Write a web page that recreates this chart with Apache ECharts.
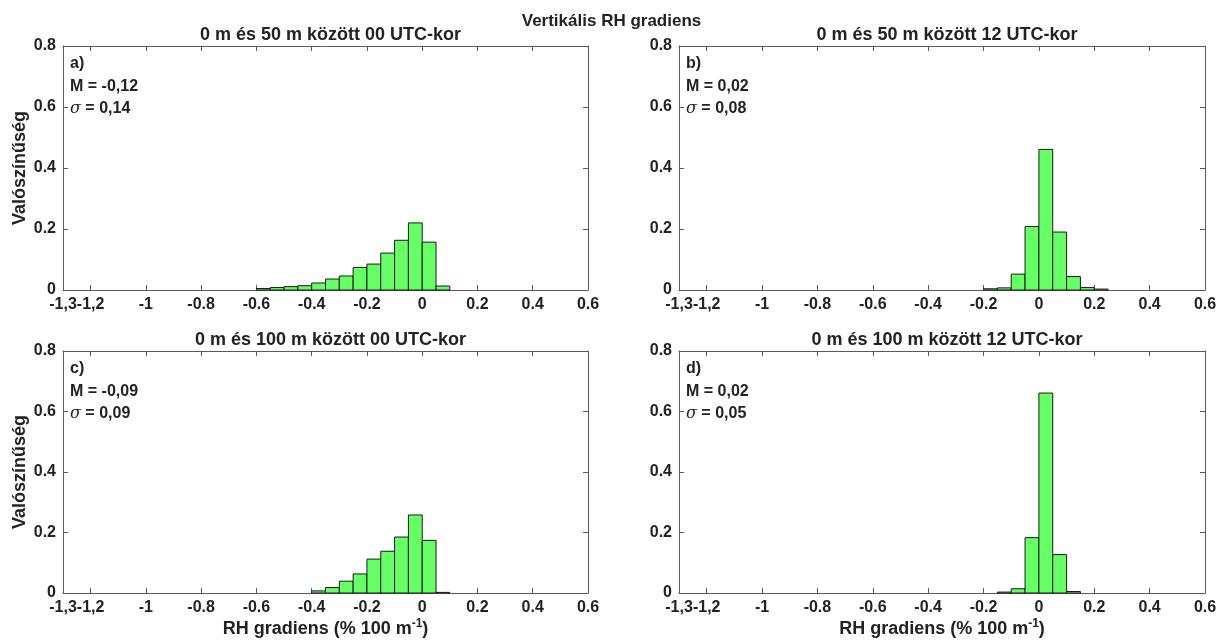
<!DOCTYPE html>
<html>
<head>
<meta charset="utf-8">
<script src="https://cdn.jsdelivr.net/npm/echarts@6/dist/echarts.min.js"></script>
<style>
html,body{margin:0;padding:0;background:#fff;}
#chart{width:1223px;height:644px;}
</style>
</head>
<body>
<div id="chart"></div>
<script>
// ---- data ----
const mainTitle = 'Vertikális RH gradiens';
const panelTitles = [
  '0 m és 50 m között 00 UTC-kor',
  '0 m és 50 m között 12 UTC-kor',
  '0 m és 100 m között 00 UTC-kor',
  '0 m és 100 m között 12 UTC-kor'
];
const panelLetters = ['a)', 'b)', 'c)', 'd)'];
const panelMeans = ['-0,12', '0,02', '-0,09', '0,02'];
const panelSigmas = ['0,14', '0,08', '0,09', '0,05'];

const binWidth = 0.05;
const binStartA = [-0.6, -0.55, -0.5, -0.45, -0.4, -0.35, -0.3, -0.25, -0.2, -0.15, -0.1, -0.05, 0, 0.05];
const probA     = [0.005, 0.008, 0.011, 0.014, 0.023, 0.036, 0.046, 0.074, 0.085, 0.121, 0.163, 0.220, 0.157, 0.013];
const binStartB = [-0.2, -0.15, -0.1, -0.05, 0, 0.05, 0.1, 0.15, 0.2];
const probB     = [0.004, 0.007, 0.052, 0.208, 0.461, 0.190, 0.044, 0.008, 0.003];
const binStartC = [-0.4, -0.35, -0.3, -0.25, -0.2, -0.15, -0.1, -0.05, 0, 0.05];
const probC     = [0.007, 0.018, 0.039, 0.063, 0.112, 0.138, 0.185, 0.258, 0.174, 0.002];
const binStartD = [-0.15, -0.1, -0.05, 0, 0.05, 0.1];
const probD     = [0.003, 0.014, 0.183, 0.661, 0.127, 0.005];

const xTickValues = [-1.3, -1.2, -1, -0.8, -0.6, -0.4, -0.2, 0, 0.2, 0.4, 0.6];
const xTickLabels = ['-1,3', '-1,2', '-1', '-0.8', '-0.6', '-0.4', '-0.2', '0', '0.2', '0.4', '0.6'];
const yTickValues = [0, 0.2, 0.4, 0.6, 0.8];
const yTickLabels = ['0', '0.2', '0.4', '0.6', '0.8'];
const xMin = -1.3, xMax = 0.6, yMin = 0, yMax = 0.8;
const yName = 'Valószínűség';
const xNameMain = 'RH gradiens (% 100 m';
const xNameSup = '-1';

// ---- layout / style ----
const FONT = '"Liberation Sans", Arial, Helvetica, sans-serif';
const TXT = '#222222';
const AXC = '#5a5a5a';
const grids = [
  {left: 63, top: 46, width: 525, height: 244},
  {left: 679, top: 46, width: 526, height: 244},
  {left: 63, top: 351, width: 525, height: 242},
  {left: 679, top: 351, width: 526, height: 242}
];
const panels = [
  [binStartA, probA], [binStartB, probB], [binStartC, probC], [binStartD, probD]
];

function xLabel(v) {
  const i = xTickValues.findIndex(t => Math.abs(t - v) < 1e-6);
  return i >= 0 ? xTickLabels[i] : '';
}
function yLabel(v) {
  const i = yTickValues.findIndex(t => Math.abs(t - v) < 1e-6);
  return i >= 0 ? yTickLabels[i] : '';
}

const xAxes = [], yAxes = [], series = [], titles = [], graphics = [];

titles.push({
  text: mainTitle, left: 'center', top: 8,
  textStyle: {fontFamily: FONT, fontSize: 17, fontWeight: 'bold', color: TXT}
});

grids.forEach((g, i) => {
  const bottomRow = i >= 2, leftCol = (i % 2) === 0;
  xAxes.push({
    type: 'value', gridIndex: i, min: xMin, max: xMax, position: 'bottom',
    axisLine: {show: true, onZero: false, lineStyle: {color: AXC, width: 1}},
    axisTick: {show: true, inside: true, length: 5, customValues: xTickValues, lineStyle: {color: AXC}},
    axisLabel: {show: true, customValues: xTickValues, formatter: xLabel, margin: 7,
      fontFamily: FONT, fontSize: 16, fontWeight: 'bold', color: TXT},
    splitLine: {show: false},
    name: bottomRow ? (xNameMain + '{sup|' + xNameSup + '})') : '',
    nameLocation: 'middle', nameGap: 25,
    nameTextStyle: {
      fontFamily: FONT, fontSize: 18, fontWeight: 'bold', color: TXT, lineHeight: 22,
      rich: {sup: {fontFamily: FONT, fontSize: 12, fontWeight: 'bold', color: TXT, lineHeight: 12, verticalAlign: 'top'}}
    }
  });
  xAxes.push({
    type: 'value', gridIndex: i, min: xMin, max: xMax, position: 'top',
    axisLine: {show: true, onZero: false, lineStyle: {color: AXC, width: 1}},
    axisTick: {show: true, inside: true, length: 5, customValues: xTickValues, lineStyle: {color: AXC}},
    axisLabel: {show: false},
    splitLine: {show: false}
  });
  yAxes.push({
    type: 'value', gridIndex: i, min: yMin, max: yMax, interval: 0.2, position: 'left',
    axisLine: {show: true, onZero: false, lineStyle: {color: AXC, width: 1}},
    axisTick: {show: true, inside: true, length: 5, lineStyle: {color: AXC}},
    axisLabel: {show: true, formatter: yLabel, margin: 7,
      fontFamily: FONT, fontSize: 16, fontWeight: 'bold', color: TXT},
    splitLine: {show: false},
    name: leftCol ? yName : '',
    nameLocation: 'middle', nameRotate: 90, nameGap: 34,
    nameTextStyle: {fontFamily: FONT, fontSize: 18, fontWeight: 'bold', color: TXT}
  });
  yAxes.push({
    type: 'value', gridIndex: i, min: yMin, max: yMax, interval: 0.2, position: 'right',
    axisLine: {show: true, onZero: false, lineStyle: {color: AXC, width: 1}},
    axisTick: {show: true, inside: true, length: 5, lineStyle: {color: AXC}},
    axisLabel: {show: false},
    splitLine: {show: false}
  });

  const [starts, probs] = panels[i];
  series.push({
    type: 'custom',
    xAxisIndex: i * 2, yAxisIndex: i * 2,
    data: starts.map((s, k) => [s, probs[k]]),
    renderItem: function (params, api) {
      const x0 = api.value(0), y = api.value(1);
      const p0 = api.coord([x0, 0]);
      const p1 = api.coord([x0 + binWidth, y]);
      return {
        type: 'rect',
        shape: {x: p0[0], y: p1[1], width: p1[0] - p0[0], height: p0[1] - p1[1]},
        style: {fill: '#66ff66', stroke: '#1a1a1a', lineWidth: 1}
      };
    },
    z: 3
  });

  titles.push({
    text: panelTitles[i], left: g.left + g.width / 2, top: g.top - 25, textAlign: 'center',
    textStyle: {fontFamily: FONT, fontSize: 18, fontWeight: 'bold', color: TXT}
  });

  const tx = g.left + 7;
  graphics.push({type: 'text', x: tx, y: g.top + 18, style: {
    text: panelLetters[i], fontFamily: FONT, fontSize: 16, fontWeight: 'bold', fill: TXT, verticalAlign: 'middle'}});
  graphics.push({type: 'text', x: tx, y: g.top + 41, style: {
    text: 'M = ' + panelMeans[i], fontFamily: FONT, fontSize: 16, fontWeight: 'bold', fill: TXT, verticalAlign: 'middle'}});
  graphics.push({type: 'text', x: tx, y: g.top + 63, style: {
    text: '{s|σ} = ' + panelSigmas[i], fontFamily: FONT, fontSize: 16, fontWeight: 'bold', fill: TXT, verticalAlign: 'middle',
    rich: {s: {fontFamily: '"DejaVu Serif", "Liberation Serif", serif', fontStyle: 'italic', fontWeight: 'normal', fontSize: 16, fill: TXT}}}});
});

const chart = echarts.init(document.getElementById('chart'), null, {renderer: 'canvas'});
chart.setOption({
  backgroundColor: '#ffffff',
  animation: false,
  title: titles,
  grid: grids,
  xAxis: xAxes,
  yAxis: yAxes,
  series: series,
  graphic: graphics
});
</script>
</body>
</html>
